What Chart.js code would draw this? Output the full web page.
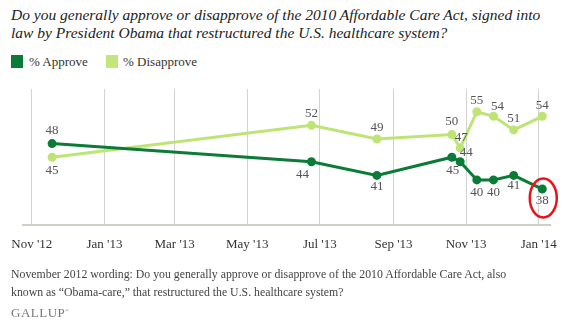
<!DOCTYPE html>
<html>
<head>
<meta charset="utf-8">
<script src="https://cdn.jsdelivr.net/npm/chart.js@4.4.1/dist/chart.umd.min.js"></script>
<style>
    body { margin: 0; background: #fff; width: 577px; height: 334px; position: relative; overflow: hidden; font-family: "Liberation Serif", serif; }
    .title { position: absolute; left: 11px; top: 6px; font-size: 15.5px; font-style: italic; line-height: 18px; color: #222; white-space: nowrap; }
    .legend { position: absolute; top: 55px; left: 11px; font-size: 13px; color: #333; line-height: 14px; }
    .legend span.box { position: absolute; top: 0; width: 12px; height: 13px; }
    .legend span.txt { position: absolute; top: 0; white-space: nowrap; }
    #chartWrap { position: absolute; left: 0; top: 80px; }
    .note { position: absolute; left: 11px; top: 265px; font-size: 11.8px; line-height: 18px; color: #444; white-space: nowrap; }
    .logo { position: absolute; left: 11px; top: 305px; font-size: 13px; color: #777; letter-spacing: 0.5px; }
</style>
</head>
<body>
<div class="title">Do you generally approve or disapprove of the 2010 Affordable Care Act, signed into<br>law by President Obama that restructured the U.S. healthcare system?</div>
<div class="legend">
    <span class="box" style="left:0;background:#0b7b38"></span><span class="txt" style="left:18px">% Approve</span>
    <span class="box" style="left:95px;background:#c2e67c"></span><span class="txt" style="left:112px">% Disapprove</span>
</div>
<div id="chartWrap"><canvas id="acaChart" width="577" height="188"></canvas></div>
<div class="note">November 2012 wording: Do you generally approve or disapprove of the 2010 Affordable Care Act, also<br>known as “Obama-care,” that restructured the U.S. healthcare system?</div>
<div class="logo">GALLUP<sup style="font-size:5px">®</sup></div>

<script>
// poll field dates
const pollDates = ['2012-11-18', '2013-06-24', '2013-08-18', '2013-10-20', '2013-10-27',
    '2013-11-10', '2013-11-24', '2013-12-11', '2014-01-04'];
const approve = [48, 44, 41, 45, 44, 40, 40, 41, 38];
const disapprove = [45, 52, 49, 50, 47, 55, 54, 51, 54];

const tickDates = ['2012-11-01', '2013-01-01', '2013-03-01', '2013-05-01', '2013-07-01',
    '2013-09-01', '2013-11-01', '2014-01-01'];
const tickLabels = ["Nov '12", "Jan '13", "Mar '13", "May '13", "Jul '13", "Sep '13", "Nov '13", "Jan '14"];

function day(s) {
    const p = s.split('-').map(Number);
    return Date.UTC(p[0], p[1] - 1, p[2]) / 864e5;
}

document.addEventListener("DOMContentLoaded", () => {
    // value labels next to each point
    const labelOffsets = {
        0: [[0, -13], [-9, 13], [0, 11], [1, 13], [6, -9], [0, 13], [0, 13], [0, 10], [0, 12]],
        1: [[0, 13], [0, -12], [0, -11], [0, -13], [1, -11], [0, -11], [4, -10], [0, -11], [0, -11]]
    };
    const pointLabels = {
        id: 'pointLabels',
        afterDatasetsDraw(chart) {
            const ctx = chart.ctx;
            ctx.save();
            ctx.font = '13px "Liberation Serif", serif';
            ctx.fillStyle = '#555';
            ctx.textAlign = 'center';
            ctx.textBaseline = 'middle';
            chart.data.datasets.forEach((ds, di) => {
                chart.getDatasetMeta(di).data.forEach((pt, i) => {
                    const off = labelOffsets[di][i];
                    ctx.fillText(ds.data[i].y, pt.x + off[0], pt.y + off[1]);
                });
            });
            ctx.restore();
        }
    };

    // red ring round the latest approval figure
    const latestRing = {
        id: 'latestRing',
        afterDraw(chart) {
            const meta = chart.getDatasetMeta(0);
            const pt = meta.data[meta.data.length - 1];
            const ctx = chart.ctx;
            ctx.save();
            ctx.strokeStyle = '#e8141b';
            ctx.lineWidth = 2.5;
            ctx.beginPath();
            ctx.ellipse(pt.x + 1, pt.y + 9, 13.5, 19.5, 0, 0, Math.PI * 2);
            ctx.stroke();
            ctx.restore();
        }
    };

    const ctx = document.getElementById('acaChart').getContext('2d');
    new Chart(ctx, {
        type: 'line',
        data: {
            datasets: [{
                label: '% Approve',
                data: pollDates.map((d, i) => ({ x: day(d), y: approve[i] })),
                borderColor: '#0b7b38',
                backgroundColor: '#0b7b38',
                borderWidth: 3,
                pointRadius: 3,
                tension: 0
            }, {
                label: '% Disapprove',
                data: pollDates.map((d, i) => ({ x: day(d), y: disapprove[i] })),
                borderColor: '#bfe476',
                backgroundColor: '#bfe476',
                borderWidth: 3,
                pointRadius: 3,
                tension: 0
            }]
        },
        options: {
            responsive: false,
            animation: false,
            layout: {
                padding: { left: 22, right: 27, top: 9, bottom: 5 }
            },
            scales: {
                x: {
                    type: 'linear',
                    min: day('2012-11-01') - 7.5,
                    max: day('2014-01-01') + 9.5,
                    afterBuildTicks: (scale) => {
                        scale.ticks = tickDates.map(d => ({ value: day(d) }));
                    },
                    ticks: {
                        autoSkip: false,
                        maxRotation: 0,
                        padding: 11,
                        color: '#333',
                        font: { family: '"Liberation Serif", serif', size: 13 },
                        callback: (value, index) => tickLabels[index]
                    },
                    grid: {
                        color: '#d2d2d2',
                        lineWidth: 1,
                        drawTicks: false
                    },
                    border: {
                        color: '#cfcfc6',
                        width: 2
                    }
                },
                y: {
                    display: false,
                    min: 30,
                    max: 60
                }
            },
            plugins: {
                legend: { display: false },
                tooltip: { enabled: false }
            }
        },
        plugins: [pointLabels, latestRing]
    });
});
</script>
</body>
</html>
